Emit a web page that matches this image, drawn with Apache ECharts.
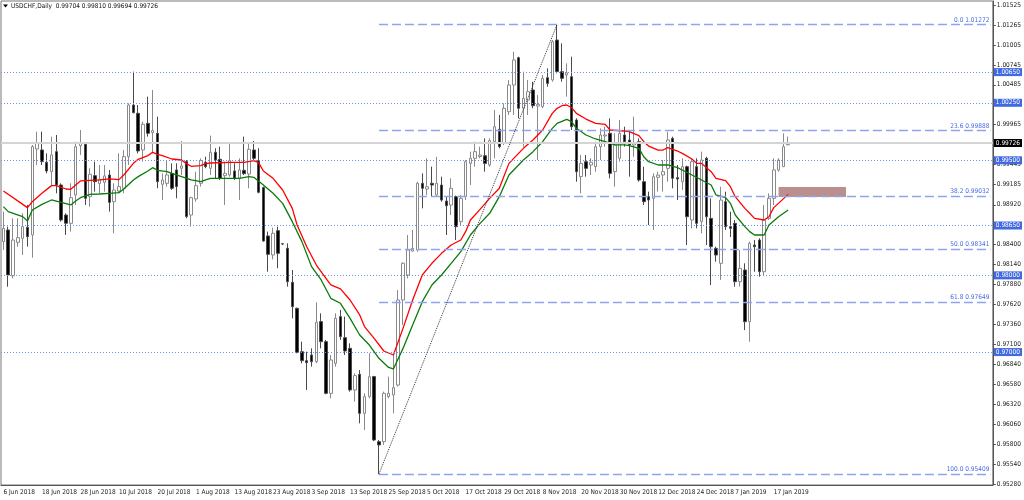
<!DOCTYPE html>
<html>
<head>
<meta charset="utf-8">
<script src="https://cdn.jsdelivr.net/npm/echarts@6/dist/echarts.min.js"></script>
<style>html,body{margin:0;padding:0;background:#fff}#c{width:1024px;height:500px}</style>
</head>
<body>
<div id="c"></div>
<script>
// ---- data ----
const dateLabels = ["6 Jun 2018","18 Jun 2018","28 Jun 2018","10 Jul 2018","20 Jul 2018","1 Aug 2018","13 Aug 2018","23 Aug 2018","3 Sep 2018","13 Sep 2018","25 Sep 2018","5 Oct 2018","17 Oct 2018","29 Oct 2018","8 Nov 2018","20 Nov 2018","30 Nov 2018","12 Dec 2018","24 Dec 2018","7 Jan 2019","17 Jan 2019"];
const open = [0.98440,0.98592,0.97996,0.98431,0.98483,0.98627,0.98527,0.99648,0.99635,0.99474,0.99352,0.99613,0.99178,0.98787,0.98679,0.99048,0.99691,0.99709,0.99026,0.99300,0.99196,0.99213,0.99309,0.98961,0.99100,0.99135,0.99548,1.00221,1.00113,0.99635,0.99982,0.99861,0.99852,0.99187,0.99200,0.99330,0.99374,0.99396,0.99483,0.98787,0.98996,0.99200,0.99474,0.99396,0.99604,0.99513,0.99300,0.99309,0.99361,0.99265,0.99370,0.99322,0.99635,0.99496,0.99144,0.98514,0.98266,0.98583,0.98412,0.98353,0.97909,0.97570,0.97005,0.96888,0.96962,0.96875,0.97397,0.97136,0.96462,0.96853,0.97462,0.97188,0.97049,0.96506,0.96710,0.96201,0.96419,0.96680,0.95832,0.95832,0.96419,0.96440,0.96570,0.97679,0.98005,0.98317,0.98331,0.99200,0.99126,0.99200,0.99048,0.99178,0.98969,0.98917,0.99026,0.98700,0.99026,0.99460,0.99526,0.99550,0.99560,0.99439,0.99743,0.99904,0.99721,1.00134,1.00482,1.00838,1.00178,1.00286,1.00417,1.00208,1.00199,1.00577,1.00547,1.01068,1.00656,1.00612,1.00590,1.00025,0.99287,0.99482,0.99439,0.99417,0.99678,0.99817,0.99852,0.99352,0.99526,0.99830,0.99765,0.99700,0.99743,0.99221,0.99026,0.99004,0.99278,0.99308,0.99395,0.99786,0.99274,0.99221,0.99417,0.98722,0.99417,0.98700,0.99526,0.98743,0.98352,0.98157,0.98961,0.98635,0.98678,0.97918,0.98070,0.97396,0.98396,0.98461,0.98048,0.98743,0.99004,0.99374,0.99417,0.99704];
const high = [0.98831,0.98635,0.98744,0.98744,0.98809,0.98918,0.99700,0.99874,0.99874,0.99591,0.99809,0.99830,0.99200,0.98809,0.99200,0.99743,0.99895,0.99735,0.99396,0.99483,0.99439,0.99439,0.99374,0.99200,0.99591,0.99635,1.00243,1.00656,1.00221,1.00004,1.00330,1.00417,1.00069,0.99330,0.99504,0.99461,0.99461,0.99752,0.99504,0.99026,0.99352,0.99526,0.99548,0.99822,0.99657,0.99678,0.99483,0.99713,0.99461,0.99526,0.99809,0.99722,0.99752,0.99657,0.99157,0.98570,0.98622,0.98635,0.98418,0.98418,0.98070,0.97580,0.97136,0.97005,0.97049,0.97649,0.97505,0.97158,0.96962,0.97505,0.97549,0.97462,0.97114,0.96723,0.96766,0.96462,0.96984,0.96690,0.95854,0.96484,0.96680,0.96971,0.97809,0.98170,0.98526,0.98591,0.99221,0.99330,0.99526,0.99417,0.99547,0.99287,0.99026,0.99265,0.99040,0.99048,0.99504,0.99613,0.99743,0.99678,0.99786,0.99786,1.00156,1.00091,1.00243,1.00547,1.00916,1.00851,1.00656,1.00547,1.00525,1.00351,1.00612,1.00699,1.01068,1.01272,1.01025,1.00764,1.00851,1.00047,0.99569,0.99569,0.99526,0.99743,0.99917,0.99938,1.00047,0.99852,1.00025,0.99938,0.99873,1.00069,0.99786,0.99417,0.99091,0.99330,0.99352,0.99504,0.99873,0.99808,0.99439,0.99526,0.99430,0.99526,0.99526,0.99613,0.99547,0.99004,0.98374,0.99156,0.99091,0.98830,0.98722,0.98331,0.98157,0.98439,0.98461,0.98483,0.98917,0.99069,0.99526,0.99526,0.99852,0.99810];
const low = [0.98331,0.97853,0.97962,0.98374,0.98266,0.98374,0.98231,0.99439,0.99439,0.99330,0.99178,0.99070,0.98700,0.98527,0.98570,0.98918,0.99570,0.98918,0.98896,0.99092,0.99070,0.99092,0.98831,0.98548,0.99070,0.99070,0.99439,1.00113,0.99591,0.99483,0.99809,0.99591,0.99135,0.98983,0.99157,0.99113,0.99005,0.99309,0.98744,0.98635,0.98961,0.99157,0.99396,0.99309,0.99265,0.99244,0.98918,0.99287,0.99244,0.98983,0.99309,0.99135,0.99504,0.99070,0.98440,0.98048,0.98209,0.98092,0.98396,0.97853,0.97440,0.96984,0.96853,0.96506,0.96810,0.96853,0.97049,0.96450,0.96397,0.96810,0.97158,0.96962,0.96484,0.96354,0.96071,0.95984,0.96397,0.95841,0.95409,0.95789,0.96397,0.96201,0.96549,0.97352,0.97961,0.98309,0.98309,0.98874,0.99048,0.99026,0.99026,0.98961,0.98526,0.98787,0.98461,0.98656,0.98982,0.99178,0.99417,0.99526,0.99352,0.99417,0.99526,0.99656,0.99700,1.00091,1.00091,1.00047,0.99678,1.00091,1.00178,0.99504,1.00178,1.00460,1.00525,1.00634,1.00525,1.00330,0.99895,0.99221,0.99069,0.99287,0.99308,0.99352,0.99504,0.99678,0.99265,0.99156,0.99482,0.99678,0.99287,0.99547,0.99221,0.98917,0.98656,0.98591,0.99091,0.99091,0.99221,0.99135,0.98982,0.99113,0.98396,0.98613,0.98613,0.98548,0.98396,0.97874,0.98178,0.97940,0.98591,0.98500,0.97853,0.97853,0.97287,0.97135,0.98048,0.97983,0.98005,0.98722,0.98917,0.99352,0.99417,0.99694];
const close = [0.98613,0.98005,0.98461,0.98492,0.98635,0.98505,0.99678,0.99722,0.99483,0.99361,0.99570,0.99178,0.98722,0.98679,0.99013,0.99678,0.99722,0.99005,0.99318,0.99222,0.99248,0.99296,0.98952,0.99113,0.99157,0.99548,1.00221,1.00121,0.99622,0.99969,0.99852,0.99887,0.99222,0.99244,0.99309,0.99135,0.99157,0.99426,0.98766,0.99013,0.99170,0.99496,0.99417,0.99604,0.99504,0.99265,0.99330,0.99496,0.99265,0.99374,0.99326,0.99643,0.99526,0.99083,0.98448,0.98274,0.98548,0.98287,0.98409,0.97918,0.97592,0.96997,0.96888,0.96862,0.96875,0.97388,0.97136,0.96462,0.96897,0.97440,0.97201,0.97014,0.96506,0.96693,0.96201,0.96419,0.96680,0.95854,0.95789,0.96462,0.96462,0.96536,0.97679,0.98157,0.98331,0.98352,0.99200,0.99135,0.99156,0.99178,0.99200,0.98982,0.98908,0.99135,0.98635,0.99004,0.99482,0.99526,0.99613,0.99569,0.99460,0.99756,0.99938,0.99678,1.00178,1.00482,1.00808,1.00178,1.00308,1.00395,1.00212,1.00230,1.00569,1.00503,1.01047,1.00656,1.00569,1.00640,0.99938,0.99352,0.99460,0.99395,0.99474,0.99678,0.99830,0.99830,0.99330,0.99700,0.99852,0.99743,0.99700,0.99730,0.99243,0.98961,0.98982,0.99287,0.99308,0.99352,0.99765,0.99265,0.99256,0.99417,0.98765,0.99482,0.98678,0.99504,0.98765,0.98374,0.98265,0.98982,0.98635,0.98613,0.97918,0.98092,0.97396,0.98417,0.98374,0.98048,0.98722,0.99004,0.99374,0.99504,0.99678,0.99726];
// moving averages, read at sample bars: [bar index, price]
const maRed = [[0,0.99100],[5,0.98883],[6,0.98961],[8,0.99070],[10,0.99170],[11,0.99170],[13,0.99126],[14,0.99122],[15,0.99178],[16,0.99231],[17,0.99235],[20,0.99244],[22,0.99257],[24,0.99248],[25,0.99309],[27,0.99461],[28,0.99513],[30,0.99561],[31,0.99604],[32,0.99578],[33,0.99561],[35,0.99517],[37,0.99504],[38,0.99457],[39,0.99422],[41,0.99430],[42,0.99457],[43,0.99465],[47,0.99474],[50,0.99474],[52,0.99496],[53,0.99470],[54,0.99361],[56,0.99265],[58,0.99113],[60,0.98874],[61,0.98657],[63,0.98374],[65,0.98135],[67,0.97962],[68,0.97875],[70,0.97823],[72,0.97679],[74,0.97484],[75,0.97332],[77,0.97179],[79,0.97014],[81,0.96962],[83,0.97309],[85,0.97679],[87,0.98005],[89,0.98157],[91,0.98287],[93,0.98396],[95,0.98461],[96,0.98570],[97,0.98722],[99,0.98861],[101,0.99004],[103,0.99135],[105,0.99460],[108,0.99656],[110,0.99765],[112,0.99895],[114,1.00112],[115,1.00178],[116,1.00212],[117,1.00221],[118,1.00186],[119,1.00112],[121,1.00038],[123,0.99982],[125,0.99969],[126,0.99895],[129,0.99882],[130,0.99873],[132,0.99821],[133,0.99743],[134,0.99686],[136,0.99634],[137,0.99634],[138,0.99665],[140,0.99621],[141,0.99591],[143,0.99517],[144,0.99460],[145,0.99460],[147,0.99352],[148,0.99265],[150,0.99234],[151,0.99156],[152,0.99026],[154,0.98874],[155,0.98809],[156,0.98743],[158,0.98722],[159,0.98765],[160,0.98883],[163,0.99056]];
const maGreen = [[0,0.98896],[1,0.98831],[4,0.98766],[5,0.98709],[6,0.98852],[8,0.98926],[10,0.98983],[12,0.98952],[14,0.98918],[15,0.98970],[16,0.99013],[18,0.99057],[20,0.99061],[22,0.99070],[24,0.99079],[25,0.99126],[27,0.99244],[28,0.99287],[30,0.99361],[31,0.99404],[32,0.99370],[34,0.99352],[35,0.99330],[37,0.99287],[39,0.99244],[41,0.99222],[42,0.99244],[43,0.99265],[46,0.99265],[49,0.99265],[51,0.99287],[52,0.99278],[54,0.99178],[56,0.99070],[58,0.98939],[60,0.98700],[62,0.98440],[64,0.98114],[66,0.97940],[68,0.97701],[70,0.97636],[72,0.97440],[74,0.97223],[76,0.97092],[78,0.96919],[80,0.96800],[81,0.96780],[83,0.97048],[85,0.97352],[87,0.97657],[89,0.97874],[91,0.98005],[93,0.98157],[95,0.98309],[97,0.98526],[99,0.98678],[101,0.98809],[103,0.99026],[105,0.99308],[108,0.99504],[110,0.99613],[112,0.99743],[114,0.99917],[115,0.99982],[117,1.00034],[118,1.00004],[119,0.99917],[121,0.99830],[123,0.99778],[125,0.99743],[127,0.99700],[129,0.99700],[130,0.99691],[132,0.99656],[133,0.99547],[134,0.99482],[136,0.99439],[138,0.99439],[140,0.99404],[141,0.99374],[143,0.99308],[145,0.99243],[147,0.99178],[148,0.99048],[150,0.99013],[151,0.98939],[152,0.98787],[154,0.98635],[155,0.98570],[156,0.98526],[158,0.98526],[159,0.98656],[161,0.98765],[163,0.98852]];
const priceTicks = [1.01525,1.01265,1.01005,1.00745,1.00485,0.99965,0.99445,0.99185,0.98920,0.98400,0.98140,0.97880,0.97620,0.97360,0.97100,0.96840,0.96580,0.96320,0.96060,0.95800,0.95540,0.95280];
const hLevels = [1.00650,1.00250,0.99500,0.98650,0.98000,0.97000];
const lastPrice = 0.99726;
const fibNames = ["0.0","23.6","38.2","50.0","61.8","100.0"];
const fibPrices = [1.01272,0.99888,0.99032,0.98341,0.97649,0.95409];
const fibFrom = 78, fibTo = 205;          // bar indices of the fib low and line end
const swing = [[78,0.95409],[115,1.01272]]; // low and high joined by the dotted trend line
const zone = {from:161, to:175, top:0.99152, bottom:0.99022};
const titleText = "USDCHF,Daily  0.99704 0.99810 0.99694 0.99726";

// ---- chart ----
const FONT = "'Liberation Sans Narrow','DejaVu Sans Condensed','Liberation Sans',sans-serif";
const N = 206;
const cats = Array.from({length:N}, (_, i) => String(i));
const showIdx = (i) => i % 8 === 0 && i / 8 < dateLabels.length;
const candles = open.map((o, i) => [o, close[i], low[i], high[i]]);
const tagLabel = (bg) => ({show:true, position:'end', distance:1, backgroundColor:bg, color:'#fff', fontSize:6.5, fontFamily:FONT, padding:[1,2,0,2]});

const chart = echarts.init(document.getElementById('c'), null, {renderer:'canvas'});
chart.setOption({
  animation:false,
  backgroundColor:'#ffffff',
  textStyle:{fontFamily:FONT},
  grid:{left:1, right:26, top:1, bottom:15, show:true, borderColor:'#777', borderWidth:1, backgroundColor:'#fff'},
  graphic:[
    {type:'polygon', shape:{points:[[3,4.5],[8,4.5],[5.5,7.5]]}, style:{fill:'#000'}},
    {type:'text', x:11, y:6, style:{text:titleText, fontSize:6.5, fontFamily:FONT, fill:'#111', textVerticalAlign:'middle'}}
  ],
  xAxis:{
    type:'category', data:cats, boundaryGap:true,
    axisLine:{lineStyle:{color:'#555', width:1}},
    axisTick:{interval:(i)=>showIdx(i), alignWithLabel:true, length:3, lineStyle:{color:'#555'}},
    axisLabel:{interval:(i)=>showIdx(i), formatter:(v, i)=>showIdx(i) ? dateLabels[i/8] : '', align:'left', margin:4, fontSize:6.5, color:'#222', fontFamily:FONT},
    splitLine:{show:false}
  },
  yAxis:{
    type:'value', position:'right', min:0.95267, max:1.01577,
    splitLine:{show:false},
    axisLine:{show:true, lineStyle:{color:'#555'}},
    axisTick:{show:true, customValues:priceTicks, length:3, lineStyle:{color:'#555'}},
    axisLabel:{customValues:priceTicks, formatter:(v)=>v.toFixed(5), fontSize:6.5, margin:4, color:'#222', fontFamily:FONT}
  },
  series:[
    {
      // last price line (drawn under the candles)
      type:'line', data:[], z:1, color:'#d4d4d4',
      markLine:{silent:true, precision:5, symbol:['none','none'],
        lineStyle:{type:'solid', color:'#d4d4d4', width:2, opacity:1},
        label:tagLabel('#000'),
        data:[{yAxis:lastPrice, label:{formatter:lastPrice.toFixed(5)}}]}
    },
    {
      // horizontal dotted levels
      type:'line', data:[], z:2, color:'#6f8ded',
      markLine:{silent:true, precision:5, symbol:['none','none'],
        lineStyle:{type:[1,2], color:'#6f8ded', width:1, opacity:1},
        label:tagLabel('#4169e1'),
        data:hLevels.map(v => ({yAxis:v, label:{formatter:v.toFixed(5)}}))}
    },
    {
      // fibonacci levels
      type:'line', data:[], z:2, color:'#8fa4ee',
      markLine:{silent:true, precision:5, symbol:['none','none'],
        lineStyle:{type:[9,4], color:'#8fa4ee', width:1.3},
        label:{show:true, position:'insideEndTop', distance:1, color:'#4a6ae0', fontSize:6.5, fontFamily:FONT},
        data:fibPrices.map((p, k) => [
          {coord:[fibFrom, p], label:{formatter:fibNames[k] + ' ' + p.toFixed(5)}},
          {coord:[fibTo, p]}
        ])}
    },
    {
      // trend line low -> high
      type:'line', data:[], z:2, color:'#333',
      markLine:{silent:true, precision:5, symbol:['none','none'],
        lineStyle:{type:'dotted', color:'#333', width:1},
        label:{show:false},
        data:[[{coord:swing[0]},{coord:swing[1]}]]}
    },
    {
      type:'candlestick', data:candles, barWidth:3, z:3,
      itemStyle:{color:'#ffffff', color0:'#000000', borderColor:'#8a8a8a', borderColor0:'#4a4a4a', borderWidth:1},
      markArea:{silent:true, itemStyle:{color:'#bc8f8f', opacity:1},
        data:[[{coord:[zone.from, zone.top]},{coord:[zone.to, zone.bottom]}]]}
    },
    {
      type:'line', data:maRed, showSymbol:false, symbol:'none', z:4,
      lineStyle:{color:'#ff0000', width:1.3}
    },
    {
      type:'line', data:maGreen, showSymbol:false, symbol:'none', z:4,
      lineStyle:{color:'#0a7a0a', width:1.3}
    }
  ]
});
</script>
</body>
</html>
